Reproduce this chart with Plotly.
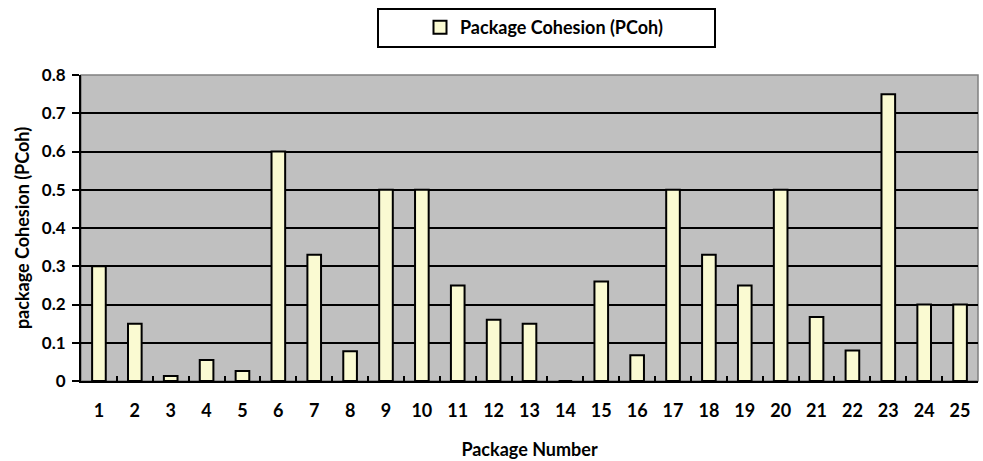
import plotly.graph_objects as go

# Package cohesion per package
packages = [str(i) for i in range(1, 26)]
pcoh = [0.30, 0.15, 0.013, 0.055, 0.026, 0.60, 0.33, 0.078, 0.50, 0.50,
        0.25, 0.16, 0.15, 0.0, 0.26, 0.067, 0.50, 0.33, 0.25, 0.50,
        0.167, 0.08, 0.75, 0.20, 0.20]
y_ticks = [0, 0.1, 0.2, 0.3, 0.4, 0.5, 0.6, 0.7, 0.8]
y_labels = ["0", "0.1", "0.2", "0.3", "0.4", "0.5", "0.6", "0.7", "0.8"]

FONT = "Lato"
BAR_FILL = "#FAFAD2"

fig = go.Figure()
fig.add_trace(go.Bar(
    x=packages, y=pcoh, name="Package Cohesion (PCoh)",
    width=0.38, showlegend=False,
    marker=dict(color=BAR_FILL, line=dict(color="black", width=2)),
))
# legend entry with a larger square swatch
fig.add_trace(go.Scatter(
    x=[None], y=[None], mode="markers", name="Package Cohesion (PCoh)",
    marker=dict(symbol="square", size=13, color=BAR_FILL, line=dict(color="black", width=2)),
))

fig.update_layout(
    width=983, height=461,
    margin=dict(l=81, r=5, t=75, b=80),
    paper_bgcolor="white",
    plot_bgcolor="#C0C0C0",
    showlegend=True,
    legend=dict(
        orientation="h", x=(544 - 81) / 897, xanchor="center",
        yref="paper", y=(381 - 27.5) / 306, yanchor="middle",
        font=dict(family=FONT, size=18, color="black", weight="bold"),
        bgcolor="rgba(0,0,0,0)", borderwidth=0, itemwidth=30,
    ),
    font=dict(family=FONT, color="black"),
    shapes=[
        # legend frame
        dict(type="rect", xref="paper", yref="paper",
             x0=(378 - 81) / 897, x1=(715 - 81) / 897,
             y0=(381 - 47) / 306, y1=(381 - 9) / 306,
             line=dict(color="black", width=2), fillcolor="white", layer="below"),
        # plot area frame (top/right in grey)
        dict(type="rect", xref="paper", yref="paper", x0=0, x1=1, y0=0, y1=1,
             line=dict(color="#808080", width=1.5), layer="below"),
    ],
)

fig.update_xaxes(
    type="category", range=[-0.5, 24.5],
    showline=True, linecolor="black", linewidth=2,
    ticks="inside", tickson="boundaries", ticklen=5, tickwidth=2, tickcolor="black",
    showgrid=False, ticklabelstandoff=12,
    tickfont=dict(family=FONT, size=18, color="black", weight="bold"),
    title=dict(text="Package Number", font=dict(family=FONT, size=18, color="black", weight="bold"),
               standoff=24),
)
fig.update_yaxes(
    range=[0, 0.8], tickvals=y_ticks, ticktext=y_labels,
    showline=True, linecolor="black", linewidth=2,
    ticks="outside", ticklen=7, tickwidth=2, tickcolor="black",
    showgrid=True, gridcolor="black", gridwidth=1.5,
    zeroline=False, ticklabelstandoff=3,
    tickfont=dict(family=FONT, size=17, color="black", weight="bold"),
    title=dict(text="package Cohesion (PCoh)", font=dict(family=FONT, size=18, color="black", weight="bold"),
               standoff=8),
)

fig.write_html("out.html")
